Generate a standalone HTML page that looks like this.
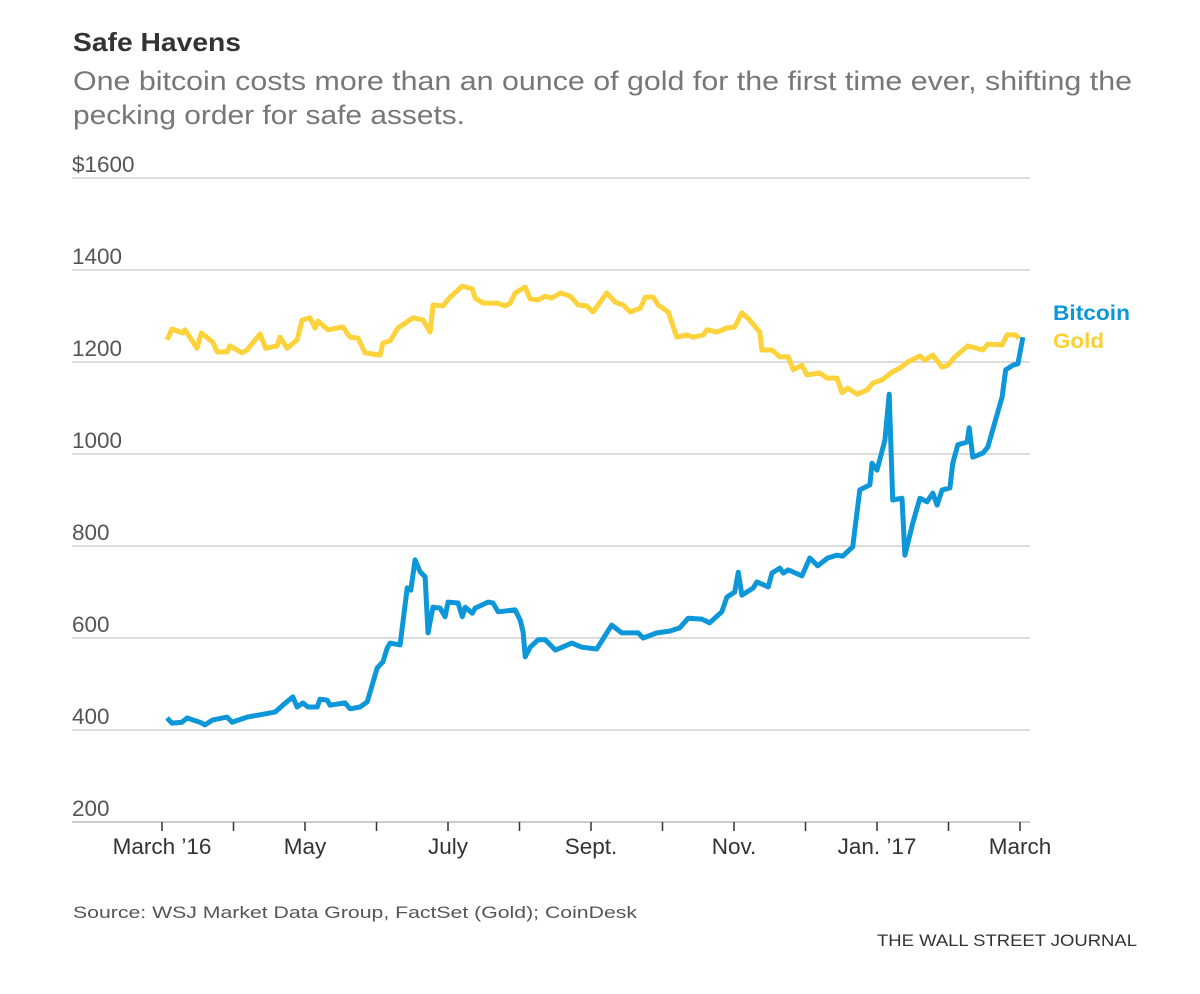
<!DOCTYPE html>
<html><head><meta charset="utf-8"><style>
html,body{margin:0;padding:0;background:#fff;}
body{width:1200px;height:989px;overflow:hidden;font-family:"Liberation Sans",sans-serif;}
svg text{font-family:"Liberation Sans",sans-serif;}
</style></head><body>
<svg id="chart" width="1200" height="989" viewBox="0 0 1200 989">
<text x="73" y="51" font-size="26" font-weight="bold" fill="#333" textLength="168" lengthAdjust="spacingAndGlyphs">Safe Havens</text>
<text x="73" y="90" font-size="27" fill="#777" textLength="1059" lengthAdjust="spacingAndGlyphs">One bitcoin costs more than an ounce of gold for the first time ever, shifting the</text>
<text x="73" y="124" font-size="27" fill="#777" textLength="392" lengthAdjust="spacingAndGlyphs">pecking order for safe assets.</text>
<g id="grid"></g><g id="xaxis"></g><g id="series"></g>
<text x="1053" y="320" font-size="21" font-weight="bold" fill="#0d97d8" textLength="77" lengthAdjust="spacingAndGlyphs">Bitcoin</text>
<text x="1053" y="348" font-size="21" font-weight="bold" fill="#f9d031" textLength="51" lengthAdjust="spacingAndGlyphs">Gold</text>
<text x="73" y="918" font-size="17" fill="#555" textLength="564" lengthAdjust="spacingAndGlyphs">Source: WSJ Market Data Group, FactSet (Gold); CoinDesk</text>
<text x="877" y="946" font-size="17" fill="#333" textLength="260" lengthAdjust="spacingAndGlyphs">THE WALL STREET JOURNAL</text>
</svg>
<script>
const yTicks=[1600,1400,1200,1000,800,600,400,200];
const yTickLabels=["$1600","1400","1200","1000","800","600","400","200"];
const xTickMonths=[0,1,2,3,4,5,6,7,8,9,10,11,12];
const xLabelMonths=[0,2,4,6,8,10,12];
const xLabels=["March \u201916","May","July","Sept.","Nov.","Jan. \u201917","March"];
const goldT=[.07,.14,.29,.32,.49,.55,.71,.77,.91,.95,1.12,1.19,1.37,1.45,1.61,1.65,1.75,1.89,1.96,2.07,2.14,2.18,2.32,2.53,2.63,2.74,2.84,3.05,3.09,3.19,3.30,3.51,3.65,3.75,3.79,3.93,4.03,4.20,4.34,4.38,4.49,4.69,4.80,4.87,4.94,5.08,5.15,5.26,5.36,5.45,5.57,5.71,5.82,5.94,6.03,6.22,6.34,6.45,6.55,6.69,6.76,6.87,6.94,7.08,7.20,7.34,7.43,7.57,7.62,7.76,7.90,8.01,8.11,8.22,8.36,8.39,8.53,8.64,8.76,8.83,8.95,9.02,9.20,9.30,9.44,9.51,9.59,9.72,9.86,9.94,10.07,10.21,10.32,10.43,10.60,10.67,10.78,10.91,10.99,11.09,11.27,11.48,11.55,11.75,11.82,11.93,11.99];
const goldV=[1248,1272,1263,1270,1230,1263,1243,1222,1222,1235,1220,1226,1261,1230,1235,1254,1230,1248,1291,1296,1274,1289,1270,1276,1254,1252,1220,1215,1241,1246,1274,1296,1291,1265,1324,1322,1341,1365,1359,1339,1328,1328,1322,1328,1350,1363,1337,1335,1343,1339,1350,1343,1324,1322,1309,1350,1330,1324,1309,1317,1341,1341,1324,1309,1254,1259,1254,1259,1270,1265,1274,1276,1307,1291,1265,1226,1226,1211,1211,1183,1193,1172,1176,1165,1165,1133,1143,1130,1139,1154,1161,1178,1187,1200,1213,1204,1215,1189,1193,1211,1235,1226,1239,1237,1259,1259,1252];
const btcT=[.07,.14,.28,.35,.53,.60,.71,.91,.98,1.19,1.37,1.58,1.69,1.83,1.89,1.97,2.04,2.17,2.21,2.31,2.35,2.56,2.63,2.77,2.87,3.01,3.09,3.15,3.19,3.33,3.43,3.48,3.54,3.61,3.68,3.72,3.79,3.89,3.96,4.00,4.14,4.20,4.24,4.34,4.38,4.56,4.63,4.70,4.94,5.01,5.05,5.08,5.15,5.26,5.36,5.50,5.57,5.73,5.87,6.08,6.29,6.43,6.66,6.73,6.92,7.10,7.24,7.36,7.55,7.66,7.83,7.90,8.01,8.06,8.11,8.27,8.32,8.48,8.53,8.64,8.69,8.76,8.95,9.06,9.17,9.31,9.44,9.52,9.66,9.76,9.90,9.93,10.00,10.11,10.17,10.22,10.35,10.39,10.50,10.60,10.70,10.78,10.84,10.91,11.02,11.06,11.13,11.26,11.29,11.34,11.48,11.55,11.75,11.80,11.90,11.97,12.04];
const btcV=[426,415,417,426,417,411,422,428,417,428,433,439,454,472,450,459,450,450,467,465,454,459,446,450,461,535,548,578,589,585,709,704,770,744,733,611,667,665,646,678,676,646,667,654,665,678,676,657,661,639,613,559,580,596,596,574,578,589,580,576,628,611,611,600,611,615,622,643,641,633,657,689,700,743,693,709,722,711,741,752,741,748,735,774,757,774,780,778,798,922,933,980,965,1030,1130,900,904,780,850,904,896,915,889,922,926,980,1020,1026,1057,993,1002,1015,1124,1183,1193,1196,1254];
const NS="http://www.w3.org/2000/svg";
const X=m=>162+m*71.5;
const Y=v=>178+(1600-v)*0.46;
function mk(tag,attrs,parent){const e=document.createElementNS(NS,tag);for(const k in attrs)e.setAttribute(k,attrs[k]);parent.appendChild(e);return e;}
const grid=document.getElementById('grid'),xa=document.getElementById('xaxis'),ser=document.getElementById('series');
yTicks.forEach((v,i)=>{
  const l=mk('line',{x1:72,x2:1030,y1:Y(v),y2:Y(v),stroke:i===yTicks.length-1?'#bbb':'#d0d0d0','stroke-width':1.5},grid);
  
  
  const t=mk('text',{x:72,y:Y(v)-6,'font-size':22.5,fill:'#555'},grid);
  t.textContent=yTickLabels[i];
  
  
});
xTickMonths.forEach(m=>{
  const l=mk('line',{x1:X(m),x2:X(m),y1:Y(200),y2:Y(200)+9,stroke:'#333','stroke-width':1.5},xa);
  
  
});
xLabelMonths.forEach((m,i)=>{
  const t=mk('text',{x:X(m),y:854,'font-size':22.5,fill:'#333','text-anchor':'middle'},xa);
  t.textContent=xLabels[i];
  
  
});
function line(ts,vs,color,name){
  const d=ts.map((t,i)=>(i?'L':'M')+X(t).toFixed(1)+','+Y(vs[i]).toFixed(1)).join('');
  const p=mk('path',{d:d,fill:'none',stroke:color,'stroke-width':5,'stroke-linejoin':'round','stroke-linecap':'butt'},ser);
  
  
}
line(goldT,goldV,'#fdd23a','gold-line');
line(btcT,btcV,'#0d97d8','bitcoin-line');
</script>
</body></html>
